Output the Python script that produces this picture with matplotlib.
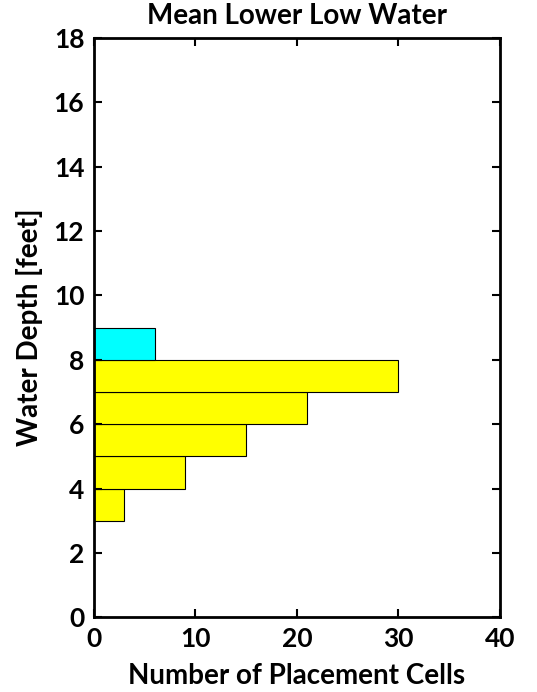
import numpy as np
import matplotlib.pyplot as plt
import matplotlib as mpl

mpl.rcParams['font.family'] = ['Lato', 'DejaVu Sans']
mpl.rcParams['font.weight'] = 'bold'

# depth bins (lower edge, feet) and counts
depth_lo = [3, 4, 5, 6, 7, 8]
counts = [3, 9, 15, 21, 30, 6]
bar_colors = ['#ffff00', '#ffff00', '#ffff00', '#ffff00', '#ffff00', '#00ffff']
xticks = [0, 10, 20, 30, 40]
yticks = list(range(0, 19, 2))

fig = plt.figure(figsize=(5.37, 6.92), dpi=100)
ax = fig.add_axes([0.175, 0.108, 0.756, 0.837])

ax.barh(depth_lo, counts, height=1, align='edge', color=bar_colors,
        edgecolor='black', linewidth=0.8)

ax.set_xlim(0, 40)
ax.set_ylim(0, 18)
ax.set_xticks(xticks)
ax.set_yticks(yticks)
ax.tick_params(direction='in', top=True, right=True, length=6, width=1.5,
               labelsize=19, pad=7)
for s in ax.spines.values():
    s.set_linewidth(2)

ax.set_title('Mean Lower Low Water', fontsize=20, fontweight='bold', pad=10)
ax.set_xlabel('Number of Placement Cells', fontsize=20, fontweight='bold', labelpad=9)
ax.set_ylabel('Water Depth [feet]', fontsize=20, fontweight='bold', labelpad=8)

fig.savefig('out.png', dpi=100)
